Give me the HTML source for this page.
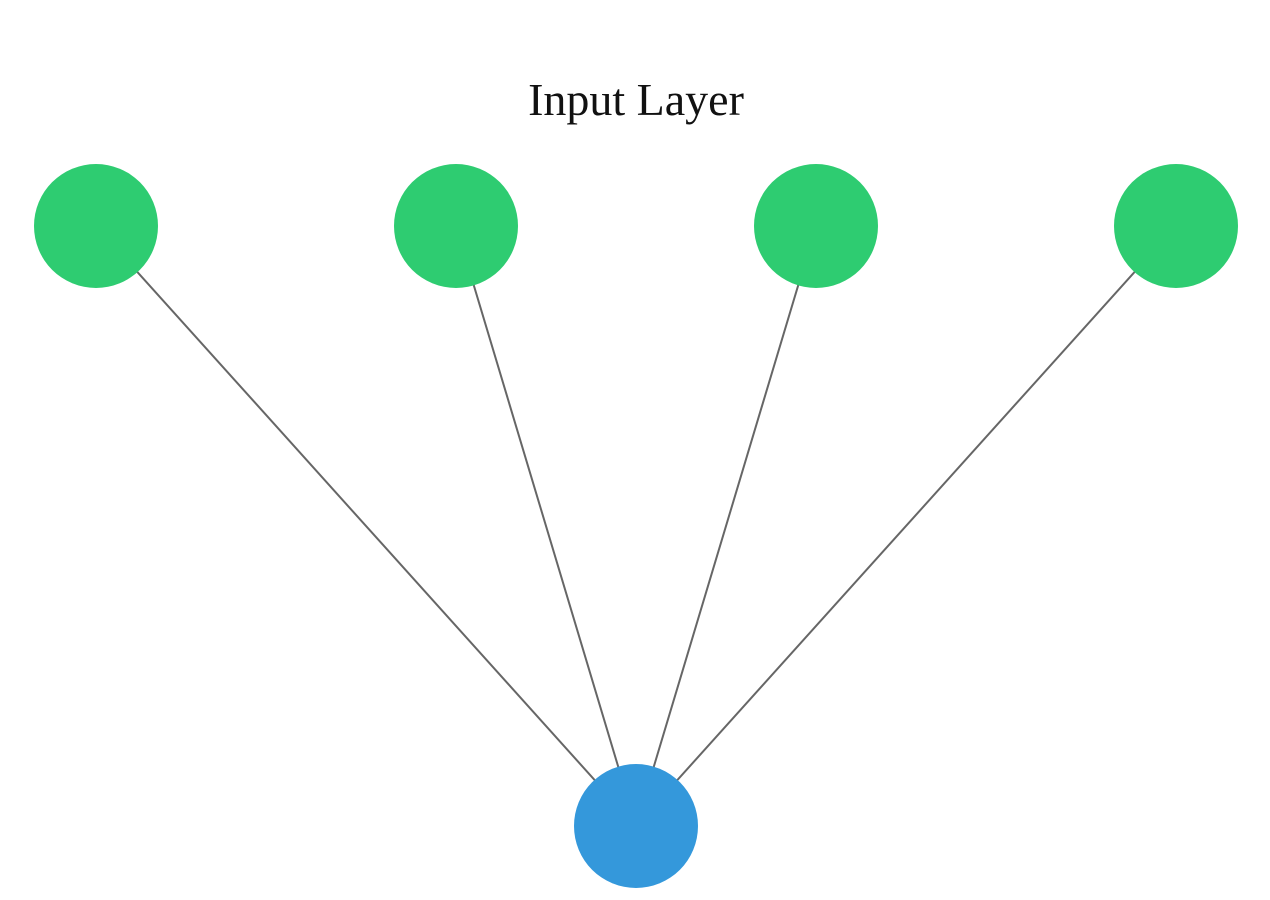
<!DOCTYPE html>
<html><head><meta charset="utf-8"><style>
html,body{margin:0;padding:0;background:#fff;width:1270px;height:900px;overflow:hidden}
</style></head><body>
<svg width="1270" height="900" xmlns="http://www.w3.org/2000/svg">
<rect width="1270" height="900" fill="#fff"/>
<text x="636" y="115" text-anchor="middle" font-family="Liberation Serif, serif" font-size="46" fill="#111">Input Layer</text>
<g stroke="#666" stroke-width="2">
<line x1="96" y1="226" x2="636" y2="826"/>
<line x1="456" y1="226" x2="636" y2="826"/>
<line x1="816" y1="226" x2="636" y2="826"/>
<line x1="1176" y1="226" x2="636" y2="826"/>
</g>
<g fill="#2ecc71">
<circle cx="96" cy="226" r="62"/>
<circle cx="456" cy="226" r="62"/>
<circle cx="816" cy="226" r="62"/>
<circle cx="1176" cy="226" r="62"/>
</g>
<circle cx="636" cy="826" r="62" fill="#3498db"/>
</svg>
</body></html>
